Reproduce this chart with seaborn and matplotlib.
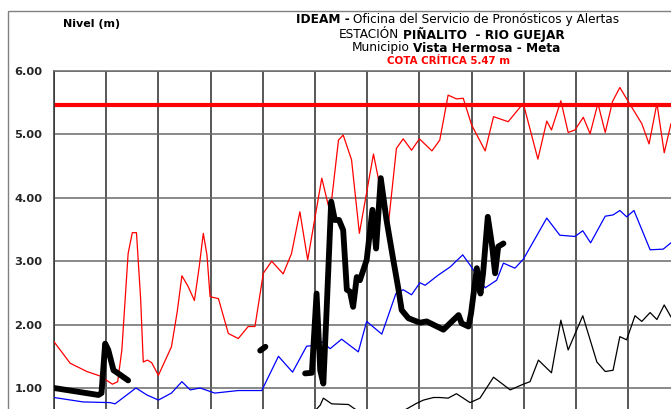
import matplotlib
matplotlib.use("Agg")
import matplotlib.pyplot as plt
import matplotlib.patches as mpatches
import seaborn as sns
import pandas as pd
import numpy as np

# ---- datos (dia desde el inicio, nivel en m) ----
cota_critica = 5.47

# maximo historico (linea roja delgada)
dias_max = [0, 0.31, 0.63, 0.88, 1.12, 1.22, 1.30, 1.42, 1.50, 1.58, 1.66, 1.71, 1.79, 1.87,
            2.0, 2.25, 2.36, 2.45, 2.57, 2.69, 2.78, 2.86, 2.93, 2.99, 3.15, 3.34, 3.53, 3.72,
            3.85, 4.01, 4.17, 4.39, 4.55, 4.71, 4.86, 5.13, 5.29, 5.45, 5.54, 5.70, 5.85,
            6.12, 6.40, 6.56, 6.69, 6.85, 7.0, 7.24, 7.39, 7.55, 7.71, 7.84, 8.0, 8.26, 8.42,
            8.70, 8.99, 9.27, 9.44, 9.53, 9.71, 9.85, 9.98, 10.14, 10.27, 10.42, 10.56, 10.70,
            10.84, 11.0, 11.26, 11.40, 11.55, 11.69, 11.82]
nivel_max = [1.73, 1.39, 1.26, 1.19, 1.06, 1.10, 1.60, 3.12, 3.45, 3.45, 2.40, 1.41, 1.44, 1.40,
             1.20, 1.65, 2.20, 2.77, 2.60, 2.38, 2.90, 3.44, 3.10, 2.44, 2.41, 1.86, 1.78, 1.97,
             1.97, 2.81, 3.00, 2.80, 3.12, 3.78, 3.02, 4.31, 3.76, 4.91, 4.99, 4.60, 3.44,
             4.69, 3.54, 4.78, 4.93, 4.75, 4.93, 4.74, 4.91, 5.62, 5.56, 5.57, 5.15, 4.74, 5.28,
             5.20, 5.49, 4.61, 5.21, 5.07, 5.53, 5.03, 5.07, 5.27, 5.01, 5.49, 5.03, 5.52,
             5.74, 5.52, 5.17, 4.85, 5.49, 4.71, 5.17]

# promedio (linea azul)
dias_med = [0, 0.56, 1.07, 1.17, 1.57, 1.78, 2.0, 2.25, 2.45, 2.61, 2.80, 3.08, 3.53, 3.98,
            4.30, 4.57, 4.84, 5.0, 5.13, 5.29, 5.51, 5.83, 5.99, 6.28, 6.55, 6.69, 6.85, 7.01,
            7.11, 7.36, 7.59, 7.83, 7.97, 8.26, 8.48, 8.61, 8.83, 8.99, 9.44, 9.69, 9.98, 10.13,
            10.28, 10.56, 10.71, 10.84, 10.97, 11.11, 11.42, 11.67, 11.82]
nivel_med = [0.85, 0.78, 0.77, 0.75, 1.0, 0.89, 0.81, 0.92, 1.10, 0.97, 1.0, 0.92, 0.96, 0.96,
             1.50, 1.25, 1.66, 1.67, 1.73, 1.62, 1.77, 1.57, 2.05, 1.85, 2.49, 2.55, 2.47, 2.66,
             2.62, 2.78, 2.91, 3.10, 2.94, 2.58, 2.70, 2.97, 2.89, 3.03, 3.68, 3.41, 3.39, 3.48,
             3.29, 3.71, 3.73, 3.80, 3.70, 3.80, 3.18, 3.19, 3.29]

# minimo historico (linea negra delgada)
dias_min = [0, 1, 2, 3, 4, 4.9, 5.10, 5.16, 5.32, 5.64, 5.85, 6.5, 6.95, 7.08, 7.27,
            7.39, 7.55, 7.71, 7.97, 8.16, 8.42, 8.74, 8.99, 9.12, 9.28, 9.53, 9.71, 9.85,
            10.13, 10.40, 10.56, 10.71, 10.84, 10.97, 11.13, 11.26, 11.42, 11.55, 11.69, 11.82]
nivel_min = [0.45, 0.45, 0.45, 0.45, 0.45, 0.55, 0.73, 0.84, 0.75, 0.74, 0.62, 0.55, 0.76, 0.81,
             0.85, 0.85, 0.84, 0.91, 0.77, 0.84, 1.17, 0.97, 1.06, 1.10, 1.44, 1.24, 2.07, 1.60,
             2.14, 1.41, 1.26, 1.28, 1.81, 1.76, 2.14, 2.05, 2.19, 2.08, 2.31, 2.12]

# nivel observado (linea negra gruesa, NaN = sin dato)
dias_obs = [0, 0.85, 0.91, 0.98, 1.04, 1.14, 1.23, 1.42, 1.43, 3.95, 4.05, 4.06,
            4.81, 4.94, 5.03, 5.10, 5.16, 5.22, 5.31, 5.38, 5.46, 5.54, 5.61, 5.67, 5.73,
            5.80, 5.86, 5.99, 6.10, 6.17, 6.26, 6.37, 6.50, 6.60, 6.66, 6.79, 7.01, 7.14,
            7.46, 7.75, 7.81, 7.94, 7.99, 8.10, 8.17, 8.22, 8.31, 8.39, 8.45, 8.51, 8.61]
nivel_obs = [1.0, 0.89, 0.92, 1.70, 1.60, 1.28, 1.23, 1.12, np.nan, 1.59, 1.65, np.nan,
             1.23, 1.24, 2.49, 1.28, 1.07, 2.18, 3.94, 3.65, 3.65, 3.49, 2.55, 2.52, 2.28,
             2.75, 2.70, 3.02, 3.81, 3.20, 4.31, 3.65, 3.02, 2.55, 2.23, 2.10, 2.03, 2.05,
             1.92, 2.15, 2.02, 1.97, 2.18, 2.89, 2.49, 2.81, 3.70, 3.26, 2.81, 3.23, 3.28]

df_max = pd.DataFrame({"dia": dias_max, "nivel": nivel_max})
df_med = pd.DataFrame({"dia": dias_med, "nivel": nivel_med})
df_min = pd.DataFrame({"dia": dias_min, "nivel": nivel_min})
df_obs = pd.DataFrame({"dia": dias_obs, "nivel": nivel_obs})
df_obs["tramo"] = df_obs["nivel"].isna().cumsum()
df_obs = df_obs.dropna()

sns.set_style("white")
plt.rcParams["font.family"] = ["DejaVu Sans"]

W, H = 671, 409
fig = plt.figure(figsize=(W / 100, H / 100), dpi=100)
ax = fig.add_axes([54 / W, 0, 1 - 54 / W, (H - 71) / H])

ax.axhline(cota_critica, color="#ff0000", lw=3.0, zorder=2)
sns.lineplot(data=df_max, x="dia", y="nivel", color="#ff0000", lw=0.9, sort=False,
             estimator=None, ax=ax, zorder=3)
sns.lineplot(data=df_med, x="dia", y="nivel", color="#0000ff", lw=0.9, sort=False,
             estimator=None, ax=ax, zorder=3)
sns.lineplot(data=df_min, x="dia", y="nivel", color="black", lw=0.9, sort=False,
             estimator=None, ax=ax, zorder=3)
sns.lineplot(data=df_obs, x="dia", y="nivel", units="tramo", color="black", lw=4.2,
             sort=False, estimator=None, ax=ax, zorder=4,
             solid_capstyle="round", solid_joinstyle="round")

ax.set_xlim(0, 617 / 52.2)
ax.set_ylim(6 - 338 / 63.4, 6)
ax.set_xticks(np.arange(0, 12))
ax.set_xticklabels([])
ax.set_yticks([1, 2, 3, 4, 5, 6])
ax.set_yticklabels([f"{v:.2f}" for v in [1, 2, 3, 4, 5, 6]])
for lbl in ax.get_yticklabels():
    lbl.set_fontweight("bold")
    lbl.set_fontsize(8.2)
ax.tick_params(axis="y", length=8.0, width=1.0, color="#505050", pad=0.5)
ax.tick_params(axis="x", length=0)
ax.xaxis.grid(True, color="#2a2a2a", lw=1.1)
ax.yaxis.grid(True, color="#6a6a6a", lw=1.1)
ax.set_axisbelow(True)
ax.set_xlabel("")
ax.set_ylabel("")
for s in ["right", "bottom"]:
    ax.spines[s].set_visible(False)
ax.spines["left"].set_color("#303030")
ax.spines["left"].set_linewidth(1.1)
ax.spines["top"].set_color("#6a6a6a")
ax.spines["top"].set_linewidth(1.1)

# marco del area del grafico
fig.add_artist(mpatches.Rectangle((7.5 / W, -0.05), 1.5, 1 - 11.5 / H + 0.05,
                                  transform=fig.transFigure, fill=False,
                                  edgecolor="#808080", lw=1.0))

# textos del encabezado
r = fig.canvas.get_renderer()


def ancho(s, peso, size):
    t = fig.text(0, 0, s, fontsize=size, fontweight=peso)
    w = t.get_window_extent(r).width
    t.remove()
    return w


def linea(partes, xc, yc, size, color="black"):
    esp = ancho("a a", "normal", size) - ancho("aa", "normal", size)
    anchos = [ancho(s, p, size) for s, p in partes]
    x = xc - (sum(anchos) + esp * (len(partes) - 1)) / 2
    for (s, p), a in zip(partes, anchos):
        fig.text(x / W, 1 - yc / H, s, fontsize=size, fontweight=p, color=color,
                 ha="left", va="center")
        x += a + esp


linea([("Nivel (m)", "bold")], 92, 24, 8.0)
linea([("IDEAM -", "bold"), ("Oficina del Servicio de Pronósticos y Alertas", "normal")],
      457.5, 19.5, 8.7)
linea([("ESTACIÓN", "normal"), ("PIÑALITO  - RIO GUEJAR", "bold")], 452, 34.5, 8.7)
linea([("Municipio", "normal"), ("Vista Hermosa - Meta", "bold")], 456, 48, 8.7)
linea([("COTA CRÍTICA 5.47 m", "bold")], 449, 61, 7.4, color="#ff0000")

fig.savefig("out.png", dpi=100)
